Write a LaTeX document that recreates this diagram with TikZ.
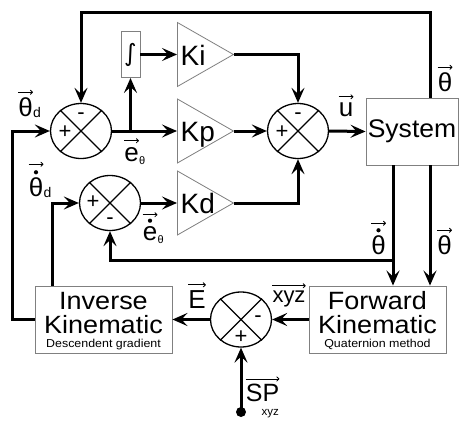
\documentclass[tikz,border=0pt]{standalone}
\usepackage{graphicx}
\usepackage{fontspec}
\setmainfont{Liberation Sans}
\newfontfamily\symfont{DejaVu Sans}
\usetikzlibrary{arrows.meta,shapes.geometric,calc}

\newcommand\wide[1]{\scalebox{1.08}[1]{#1}}
\tikzset{
  flow/.style={line width=3pt, -{Stealth[length=15pt,width=13pt,inset=6pt]}},
  sumnode/.style={ellipse, draw, line width=1.3pt, minimum width=61pt, minimum height=55pt, inner sep=0pt},
  xline/.style={line width=1.3pt},
  block/.style={rectangle, draw=gray, line width=0.9pt, fill=white, inner sep=0pt},
  gain/.style={isosceles triangle, isosceles triangle stretches, draw=gray, line width=0.8pt,
    minimum width=64pt, minimum height=56pt, inner sep=0pt, anchor=west},
  gaintext/.style={inner sep=0pt, anchor=base west, font=\fontsize{28}{29}\selectfont},
  bigt/.style={inner sep=0pt, anchor=base, font=\fontsize{25}{26}\selectfont},
  smallt/.style={inner sep=0pt, anchor=base, font=\fontsize{11.5}{12}\selectfont},
  lbl/.style={inner sep=0pt, font=\fontsize{26}{28}\selectfont},
  sublbl/.style={inner sep=0pt, anchor=base west, font=\fontsize{14}{16}\selectfont},
  sgn/.style={inner sep=0pt, font=\fontsize{22}{24}\selectfont},
  varr/.style={line width=0.8pt, -{To[length=3pt,width=5pt]}},
}
\newcommand\vecover[2]{\draw[varr] ([yshift=#1]#2.north west) -- ([yshift=#1]#2.north east);}
\newcommand\dotover[2]{\fill ([yshift=#1]#2.north) circle (2.1pt);}
\newcommand\crossin[1]{\draw[xline] (#1.45) -- (#1.225) (#1.135) -- (#1.315);}

\begin{document}
\begin{tikzpicture}[x=1pt,y=-1pt]
\fill[white] (0,0) rectangle (459,421);
\useasboundingbox (0,0) rectangle (459,421);

% sum junctions
\node[sumnode] (s1) at (81,131) {};
\node[sumnode] (s2) at (298,131) {};
\node[sumnode] (s3) at (110,203) {};
\node[sumnode] (s4) at (241,319.5) {};
\crossin{s1}\crossin{s2}\crossin{s3}\crossin{s4}
\node[sgn] (s1p) at ($(s1)+(-16,1)$) {+};
\node[sgn] (s1m) at ($(s1)+(0,-15)$) {-};
\node[sgn] (s2p) at ($(s2)+(-16,1)$) {+};
\node[sgn] (s2m) at ($(s2)+(0,-15)$) {-};
\node[sgn] (s3p) at ($(s3)+(-17,-1)$) {+};
\node[sgn] (s3m) at ($(s3)+(0,18)$) {-};
\node[sgn] (s4m) at ($(s4)+(17,0)$) {-};
\node[sgn] (s4p) at ($(s4)+(0,18)$) {+};

% gains
\node[gain] (ki) at (177,54.5) {};
\node[gain] (kp) at (177,131) {};
\node[gain] (kd) at (177,203) {};
\node[gaintext] (kit) at (180.5,65) {Ki};
\node[gaintext] (kpt) at (180.5,141) {Kp};
\node[gaintext] (kdt) at (180.5,213) {Kd};

% integral
\node[block, minimum width=19pt, minimum height=46pt] (int) at (130.5,54.5) {\symfont\fontsize{24}{24}\selectfont ∫};

% blocks
\node[block, minimum width=92pt, minimum height=67pt] (sys) at (412,131.5) {};
\node[inner sep=0pt, font=\fontsize{25.5}{27}\selectfont] (syst) at (412,131.5) {\scalebox{1.04}[1]{System}};

\node[block, minimum width=137pt, minimum height=67pt] (ik) at (103.5,319.5) {};
\node[bigt] (ik1) at (103.5,309) {\wide{Inverse}};
\node[bigt] (ik2) at (103.5,333) {\wide{Kinematic}};
\node[smallt] (ik3) at (103.5,347) {\wide{Descendent gradient}};

\node[block, minimum width=137pt, minimum height=67pt] (fk) at (377.5,319.5) {};
\node[bigt] (fk1) at (377.5,309) {\wide{Forward}};
\node[bigt] (fk2) at (377.5,333) {\wide{Kinematic}};
\node[smallt] (fk3) at (377.5,347) {\wide{Quaternion method}};

\node[circle, fill, minimum size=10pt, inner sep=0pt] (sp) at (241,412) {};

% helper coordinates
\coordinate (topY) at (0,12);
\coordinate (xR) at (430,0);
\coordinate (xM) at (393,0);
\coordinate (yM) at (0,260);
\coordinate (xL) at (12,0);
\coordinate (xL2) at (52,0);

% connectors
\draw[flow] (xR |- sys.north) |- (topY -| s1.north) -- (s1.north);
\draw[flow] (xR |- sys.south) -- (xR |- fk.north);
\draw[flow] (xM |- sys.south) -- (xM |- fk.north);
\draw[flow] (xM |- yM) -| (s3.south);
\draw[flow] (fk.west) -- (s4.east);
\draw[flow] (s4.west) -- (ik.east);
\draw[flow] (sp.center) -- (s4.south);
\draw[flow] (ik.west) -| (xL |- s1.west) -- (s1.west);
\draw[flow] (xL2 |- ik.north) |- (s3.west);
\draw[flow] (s1.east) -- (kp.west);
\draw[flow] (int.south |- s1.east) -- (int.south);
\draw[flow] (int.east) -- (ki.west);
\draw[flow] (ki.apex) -| (s2.north);
\draw[flow] (kp.apex) -- (s2.west);
\draw[flow] (kd.apex) -| (s2.south);
\draw[flow] (s3.east) -- (kd.west);
\draw[flow] (s2.east) -- (sys.west);

% labels
\node[lbl] (lth1) at (445,82) {θ};
\vecover{5pt}{lth1}
\node[lbl] (lthd) at (25.5,107) {θ};
\node[sublbl] (lthds) at ([yshift=-1.5pt]lthd.base east) {d};
\vecover{5pt}{lthd}
\node[lbl] (ldthd) at (36,187) {θ};
\node[sublbl] (ldthds) at ([yshift=-1.5pt]ldthd.base east) {d};
\dotover{5pt}{ldthd}
\vecover{13pt}{ldthd}
\node[lbl] (le) at (131.5,155) {e};
\node[sublbl, font=\fontsize{11}{12}\selectfont] (les) at ([yshift=-2.5pt]le.base east) {θ};
\vecover{7pt}{le}
\node[lbl] (lde) at (150,234) {e};
\node[sublbl, font=\fontsize{11}{12}\selectfont] (ldes) at ([yshift=-2.5pt]lde.base east) {θ};
\dotover{6pt}{lde}
\vecover{12pt}{lde}
\node[lbl] (lu) at (346,110) {u};
\vecover{6pt}{lu}
\node[lbl] (ldth2) at (378.5,245) {θ};
\dotover{5pt}{ldth2}
\vecover{12pt}{ldth2}
\node[lbl] (lth2) at (444.5,245) {θ};
\vecover{5pt}{lth2}
\node[lbl] (lE) at (197,300) {E};
\vecover{6pt}{lE}
\node[lbl, font=\fontsize{22}{24}\selectfont] (lxyz) at (289,299) {xyz};
\vecover{5pt}{lxyz}
\node[lbl, font=\fontsize{25}{27}\selectfont] (lsp) at (262.5,393) {SP};
\node[sublbl, font=\fontsize{11.5}{12}\selectfont] (lsps) at ([xshift=-1pt,yshift=-14pt]lsp.base) {xyz};
\vecover{5pt}{lsp}
\end{tikzpicture}
\end{document}
